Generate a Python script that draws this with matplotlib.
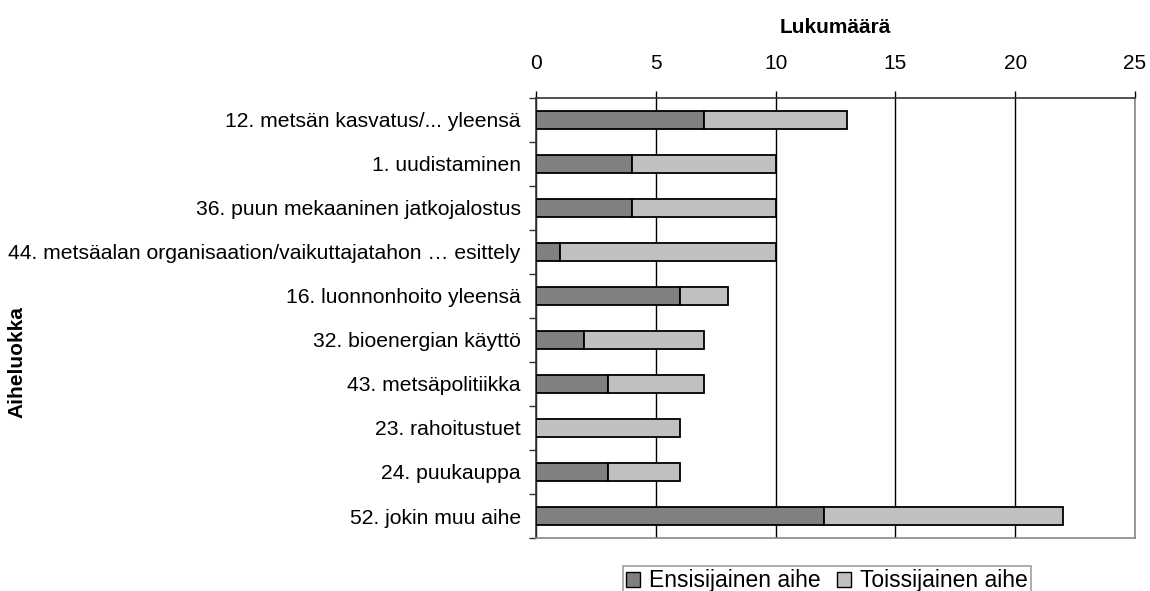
import matplotlib
matplotlib.use("Agg")
import matplotlib.pyplot as plt
import numpy as np

plt.rcParams['font.family'] = ['Liberation Sans', 'DejaVu Sans']

categories = [
    "12. metsän kasvatus/... yleensä",
    "1. uudistaminen",
    "36. puun mekaaninen jatkojalostus",
    "44. metsäalan organisaation/vaikuttajatahon … esittely",
    "16. luonnonhoito yleensä",
    "32. bioenergian käyttö",
    "43. metsäpolitiikka",
    "23. rahoitustuet",
    "24. puukauppa",
    "52. jokin muu aihe",
]
ensisijainen = [7, 4, 4, 1, 6, 2, 3, 0, 3, 12]
toissijainen = [6, 6, 6, 9, 2, 5, 4, 6, 3, 10]
series_names = ["Ensisijainen aihe", "Toissijainen aihe"]
xticks = [0, 5, 10, 15, 20, 25]

fig = plt.figure(figsize=(11.5, 5.91), dpi=100)
ax = fig.add_axes([536/1150, 1-538/591, (1135-536)/1150, (538-98)/591])

y = np.arange(len(categories))
h = 0.41
ax.barh(y, ensisijainen, height=h, color="#808080", edgecolor="black", linewidth=1.3, label=series_names[0], zorder=3)
ax.barh(y, toissijainen, left=ensisijainen, height=h, color="#C0C0C0", edgecolor="black", linewidth=1.3, label=series_names[1], zorder=3)

ax.set_ylim(len(categories) - 0.5, -0.5)
ax.set_xlim(0, 25)
ax.xaxis.tick_top()
ax.xaxis.set_label_position("top")
ax.set_xticks(xticks)
ax.set_xticklabels([str(t) for t in xticks], fontsize=15)
ax.tick_params(axis='x', direction='out', length=5, width=1, pad=13, colors='black')
ax.set_xlabel("Lukumäärä", fontsize=15, fontweight='bold', labelpad=15)

ax.set_yticks(y)
ax.set_yticklabels(categories, fontsize=15.2)
ax.tick_params(axis='y', length=0, pad=11)
ax.set_yticks(np.arange(len(categories) + 1) - 0.5, minor=True)
ax.tick_params(axis='y', which='minor', length=5, width=1, direction='out', color='#333333')

ax.grid(axis='x', color='black', linewidth=1, zorder=0)
ax.set_axisbelow(True)
for s in ['top', 'left']:
    ax.spines[s].set_color('#333333')
    ax.spines[s].set_linewidth(1.2)
for s in ['right', 'bottom']:
    ax.spines[s].set_color('#888888')
    ax.spines[s].set_linewidth(1.2)

fig.text(17/1150, 1-362/591, "Aiheluokka", rotation=90, fontsize=15, fontweight='bold', va='center', ha='center')

leg = fig.legend(loc='upper left', bbox_to_anchor=(623/1150, 1-566/591), ncol=2, fontsize=16.5,
                 frameon=True, fancybox=False, edgecolor='#888888', handlelength=0.6, handleheight=0.6,
                 handletextpad=0.4, columnspacing=0.7, borderpad=0.15, borderaxespad=0)
leg.get_frame().set_linewidth(1.2)
for p in leg.get_patches():
    p.set_linewidth(1.0)

fig.savefig("out.png", dpi=100)
